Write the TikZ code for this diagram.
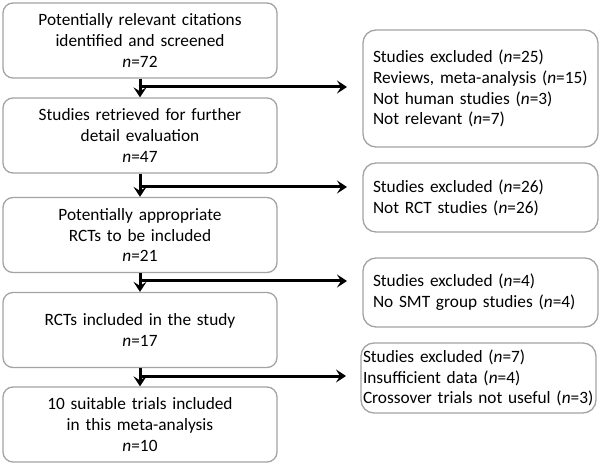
\documentclass[tikz,border=0pt]{standalone}
\usepackage{fontspec}
\setmainfont{Carlito}
\usetikzlibrary{arrows.meta}
\begin{document}
\begin{tikzpicture}[x=1pt,y=-1pt,
  font=\fontsize{17.3}{20.8}\selectfont,
  lbox/.style={draw=black!36, line width=1.3pt, rounded corners=10pt,
    minimum width=274pt, minimum height=75pt, text width=260pt,
    inner xsep=7pt, align=center},
  rbox/.style={draw=black!36, line width=1.3pt, rounded corners=13pt,
    minimum width=235pt, text width=215pt, inner xsep=10pt, align=left},
  arr/.style={line width=3pt, -{Stealth[length=10pt,width=13pt,inset=4pt]}}]
\useasboundingbox (0,0) rectangle (600,465);
\node[lbox] (b1) at (140,40.5) {Potentially relevant citations\\identified and screened\\\textit{n}=72};
\node[lbox] (b2) at (140,135.5) {Studies retrieved for further\\detail evaluation\\\textit{n}=47};
\node[lbox] (b3) at (140,235) {Potentially appropriate\\RCTs to be included\\\textit{n}=21};
\node[lbox] (b4) at (140,330) {RCTs included in the study\\\textit{n}=17};
\node[lbox] (b5) at (140,424.5) {10 suitable trials included\\in this meta-analysis\\\textit{n}=10};
\node[rbox, minimum height=117pt] (r1) at (480.5,88.5) {Studies excluded (\textit{n}=25)\\Reviews, meta-analysis (\textit{n}=15)\\Not human studies (\textit{n}=3)\\Not relevant (\textit{n}=7)};
\node[rbox, minimum height=69pt] (r2) at (480.5,197.5) {Studies excluded (\textit{n}=26)\\Not RCT studies (\textit{n}=26)};
\node[rbox, minimum height=69pt] (r3) at (480.5,292.5) {Studies excluded (\textit{n}=4)\\No SMT group studies (\textit{n}=4)};
\node[rbox, minimum height=70pt, text width=231pt, inner xsep=2pt] (r4) at (478.5,378) {Studies excluded (\textit{n}=7)\\Insufficient data (\textit{n}=4)\\Crossover trials not useful (\textit{n}=3)};
\draw[arr] (b1) -- (b2);
\draw[arr] (b2) -- (b3);
\draw[arr] (b3) -- (b4);
\draw[arr] (b4) -- (b5);
\coordinate (j1) at (138.5,87);
\coordinate (j2) at (138.5,187);
\coordinate (j3) at (138.5,281);
\coordinate (j4) at (138.5,376);
\coordinate (e1) at (347,87);
\coordinate (e2) at (347,187);
\coordinate (e3) at (347,281);
\coordinate (e4) at (346,376);
\draw[arr] (j1) -- (e1);
\draw[arr] (j2) -- (e2);
\draw[arr] (j3) -- (e3);
\draw[arr] (j4) -- (e4);
\end{tikzpicture}
\end{document}
